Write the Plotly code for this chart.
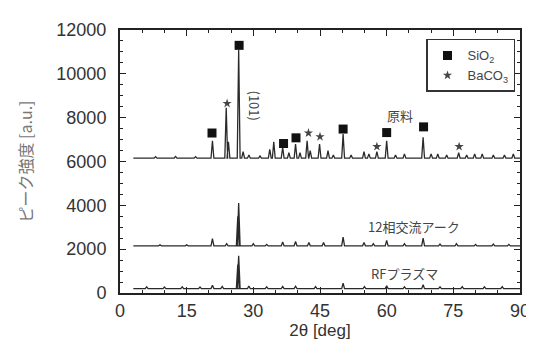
import plotly.graph_objects as go

# ---------------- data ----------------
# 2θ range of the measured patterns
scan_start = 3.0
scan_end = 90.0

# 原料 (raw material) pattern: baseline and peaks (2θ, intensity)
raw_base = 6150
raw_peak_pos = [8.0, 12.5, 17.0, 20.8, 23.9, 24.4, 26.7, 27.7, 29.0, 31.5, 33.7, 34.6, 36.6, 38.0, 39.5,
                40.5, 42.1, 42.8, 44.9, 46.8, 48.0, 50.2, 52.0, 54.9, 56.0, 57.8, 60.0, 62.0, 64.0,
                68.2, 70.0, 71.5, 73.5, 76.2, 78.0, 79.8, 81.5, 84.0, 86.5, 88.5]
raw_peak_val = [6220, 6230, 6220, 6950, 8450, 6900, 11100, 6450, 6300, 6250, 6550, 6900, 6650, 6400, 6800,
                6400, 6950, 6500, 6800, 6500, 6300, 7250, 6300, 6450, 6350, 6450, 6950, 6300, 6350,
                7100, 6350, 6350, 6300, 6400, 6300, 6350, 6350, 6300, 6300, 6350]

# 12相交流アーク pattern
arc_base = 2150
arc_peak_pos = [9.0, 15.0, 20.8, 24.0, 26.5, 26.7, 30.0, 33.0, 36.6, 39.5, 42.5, 45.8, 50.2, 54.9,
                57.0, 60.0, 64.0, 68.2, 72.0, 75.7, 80.0, 84.0, 87.5]
arc_peak_val = [2200, 2200, 2480, 2250, 3500, 4100, 2250, 2220, 2330, 2350, 2300, 2300, 2550, 2300,
                2250, 2400, 2250, 2500, 2230, 2250, 2220, 2230, 2220]

# RFプラズマ pattern
rf_base = 200
rf_peak_pos = [6.0, 10.0, 14.0, 18.0, 20.8, 23.0, 26.5, 26.7, 29.0, 33.0, 36.6, 39.5, 44.0, 50.2,
               55.0, 60.0, 64.0, 68.2, 72.0, 77.0, 82.0, 86.0]
rf_peak_val = [280, 270, 280, 270, 350, 300, 1300, 1700, 320, 280, 300, 310, 290, 450,
               290, 330, 280, 380, 280, 290, 280, 290]

# phase markers
sio2_x = [20.7, 26.8, 36.8, 39.6, 50.2, 60.0, 68.3]
sio2_y = [7300, 11300, 6820, 7080, 7480, 7320, 7580]
baco3_x = [24.1, 42.4, 45.0, 57.8, 76.3]
baco3_y = [8650, 7300, 7130, 6680, 6680]

x_ticks = [0, 15, 30, 45, 60, 75, 90]
y_ticks = [0, 2000, 4000, 6000, 8000, 10000, 12000]
y_tick_labels = ["0", "2000", "4000", "6000", "8000", "10000", "12000"]


def pattern(base, pos, val, half_width=0.32):
    xs, ys = [scan_start], [base]
    for p, v in sorted(zip(pos, val)):
        xs += [p - half_width, p, p + half_width]
        ys += [base, v, base]
    xs.append(scan_end)
    ys.append(base)
    return xs, ys


fig = go.Figure()
line_col = "#2a2a2a"
for base, pos, val in [(raw_base, raw_peak_pos, raw_peak_val),
                       (arc_base, arc_peak_pos, arc_peak_val),
                       (rf_base, rf_peak_pos, rf_peak_val)]:
    xs, ys = pattern(base, pos, val)
    fig.add_trace(go.Scatter(x=xs, y=ys, mode="lines", line=dict(color=line_col, width=1.3),
                             showlegend=False, hoverinfo="skip"))

fig.add_trace(go.Scatter(x=sio2_x, y=sio2_y, mode="markers", name="SiO<sub>2</sub>",
                         marker=dict(symbol="square", size=9, color="#111")))
fig.add_trace(go.Scatter(x=baco3_x, y=baco3_y, mode="markers", name="BaCO<sub>3</sub>",
                         marker=dict(symbol="star", size=7, color="#444")))

txt_font = dict(family="Noto Sans CJK JP", size=13, color="#444")
fig.add_annotation(x=63.1, y=8120, text="原料", showarrow=False, font=txt_font)
fig.add_annotation(x=30.3, y=8570, text="(101)", showarrow=False, textangle=90, font=txt_font)
fig.add_annotation(x=66.2, y=3020, text="12相交流アーク", showarrow=False, font=txt_font)
fig.add_annotation(x=64.0, y=900, text="RFプラズマ", showarrow=False, font=txt_font)

tick_font = dict(family="Liberation Sans, Arial", size=18, color="#333")
axis_common = dict(showline=True, mirror="ticks", linecolor="#222", linewidth=2,
                   ticks="inside", ticklen=6, tickcolor="#222", showgrid=False, zeroline=False,
                   tickfont=tick_font)

fig.update_xaxes(range=[0, 90], tickvals=x_ticks, ticktext=[str(v) for v in x_ticks],
                 minor=dict(ticks="inside", ticklen=3, dtick=5, tickcolor="#222"),
                 title=dict(text="2θ [deg]", font=dict(family="Liberation Sans, Arial", size=17, color="#333"),
                            standoff=2),
                 **axis_common)
fig.update_yaxes(range=[0, 12000], tickvals=y_ticks, ticktext=y_tick_labels,
                 minor=dict(ticks="inside", ticklen=3, dtick=500, tickcolor="#222"),
                 ticklabelstandoff=8,
                 title=dict(text="ピーク強度 [a.u.]", font=dict(family="Noto Sans CJK JP", size=16, color="#777"),
                            standoff=20),
                 **axis_common)

fig.update_layout(
    width=534, height=345,
    margin=dict(l=112, r=21, t=19, b=60),
    paper_bgcolor="white", plot_bgcolor="white",
    legend=dict(x=0.765, y=0.966, xanchor="left", yanchor="top",
                bordercolor="#333", borderwidth=1.5, bgcolor="white",
                font=dict(family="Liberation Sans, Arial", size=13, color="#444"),
                itemwidth=30, tracegroupgap=2),
)

fig.write_html("out.html")
